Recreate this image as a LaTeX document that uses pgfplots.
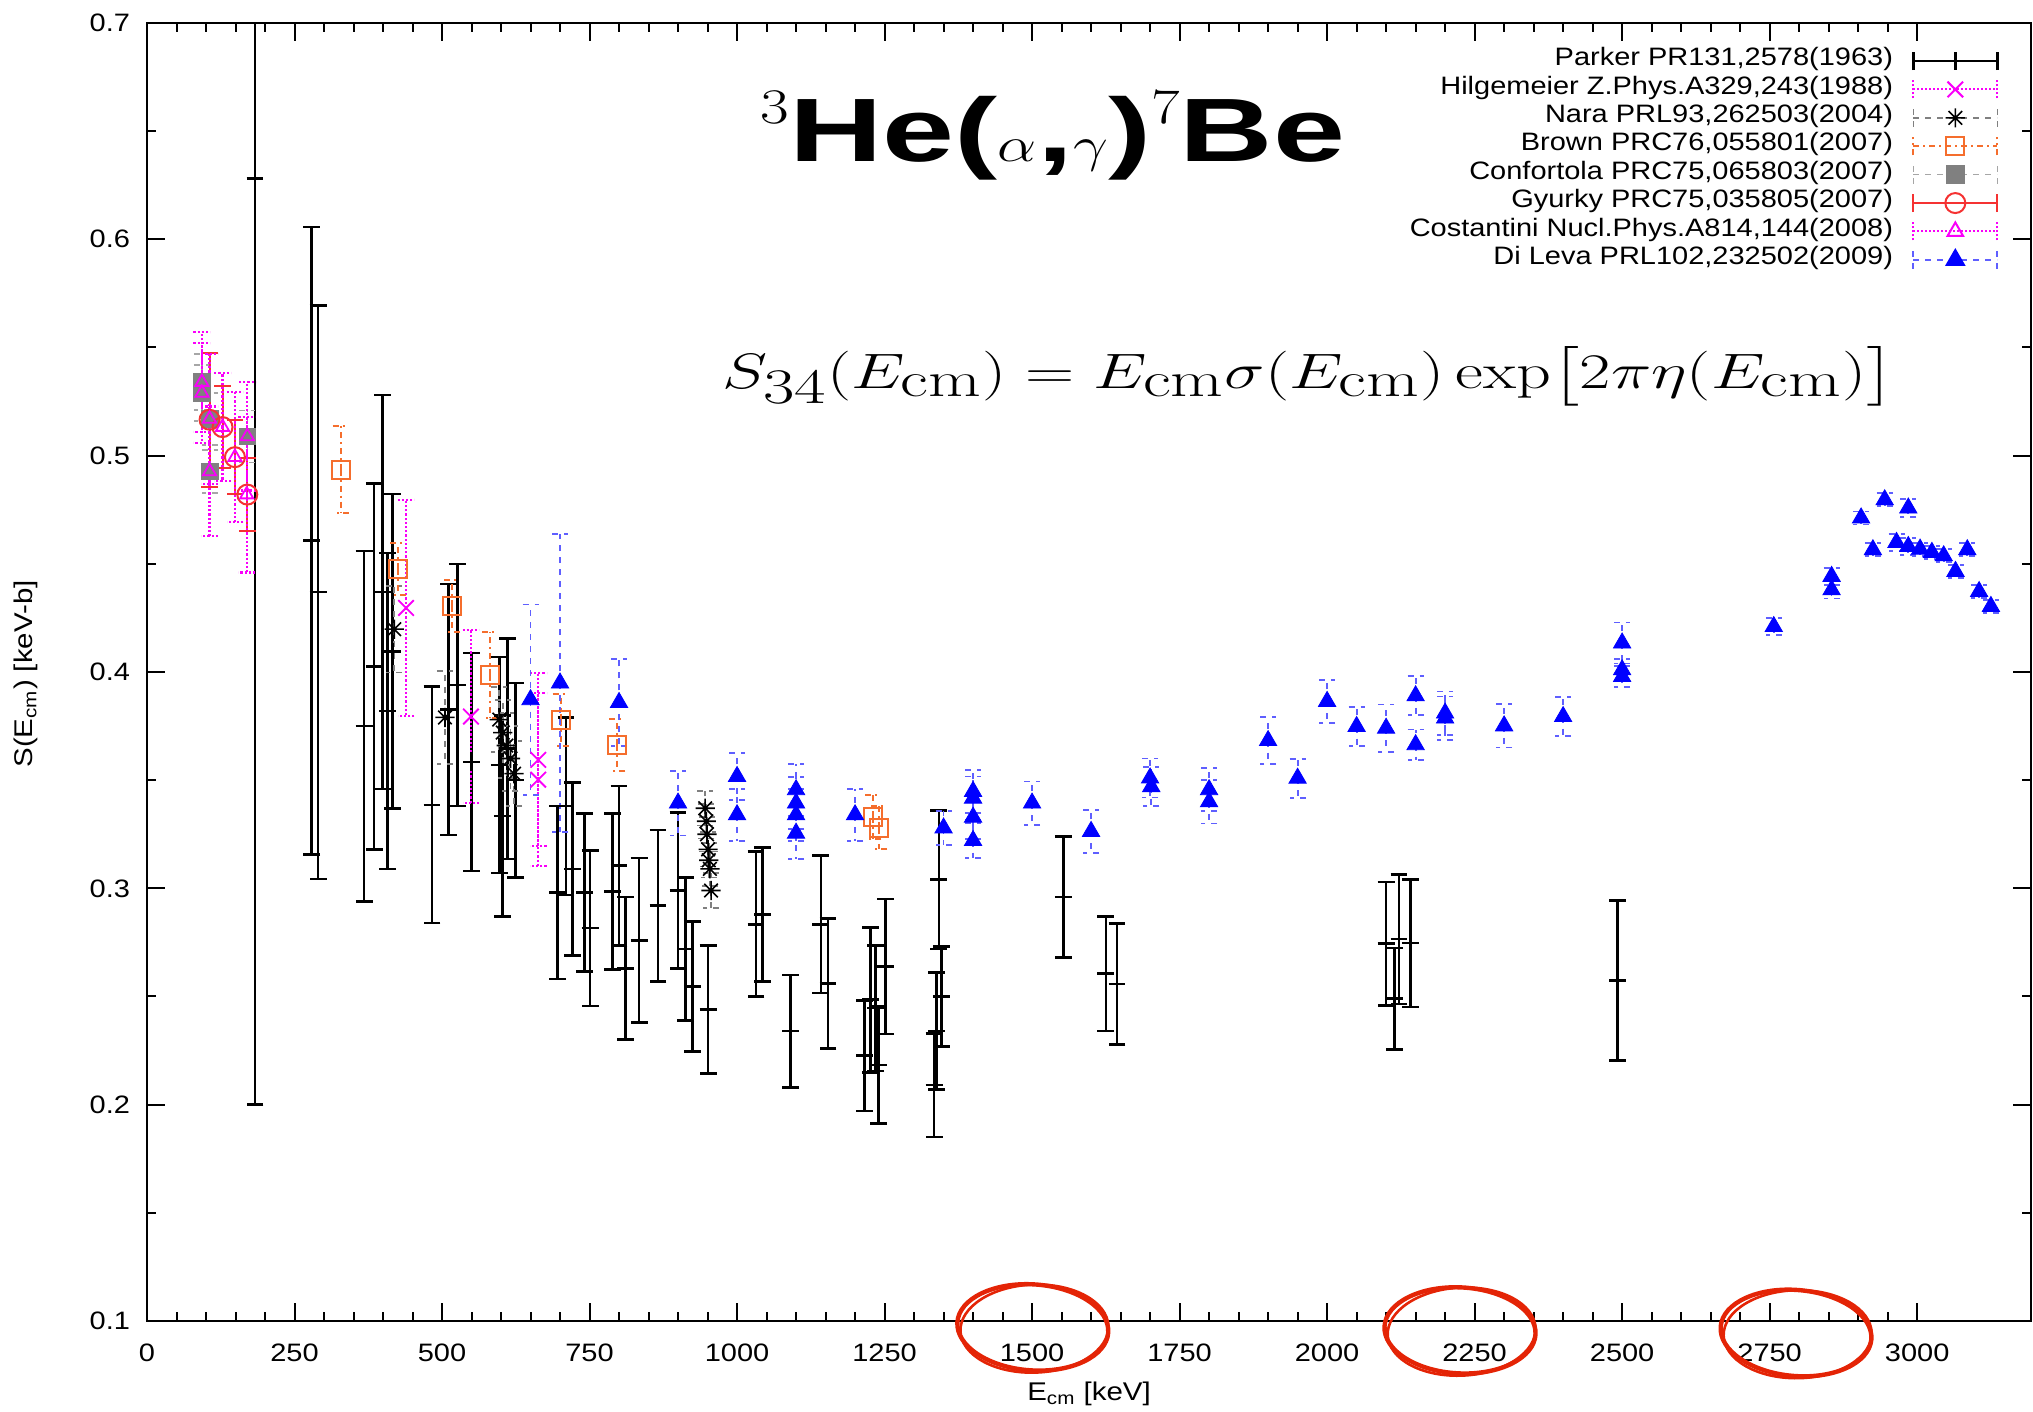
\documentclass[border=0pt]{standalone}
\usepackage[no-math]{fontspec}
\setmainfont{Liberation Sans}[FakeStretch=1.15]
\usepackage{amsmath}
\usepackage{graphicx}
\usepackage{pgfplots}
\usepackage{pgfplotstable}
\pgfplotsset{compat=1.18}

\definecolor{hilg}{RGB}{250,0,250}
\definecolor{brownc}{RGB}{245,110,45}
\definecolor{gyur}{RGB}{245,50,50}
\definecolor{confg}{RGB}{128,128,128}
\definecolor{dileva}{RGB}{0,0,255}
\definecolor{dilevaerr}{RGB}{95,95,255}
\definecolor{inkred}{RGB}{228,36,6}

% eight-armed asterisk, as in gnuplot's point type 3
\pgfdeclareplotmark{star8}{%
  \pgfpathmoveto{\pgfqpoint{-\pgfplotmarksize}{0pt}}\pgfpathlineto{\pgfqpoint{\pgfplotmarksize}{0pt}}%
  \pgfpathmoveto{\pgfqpoint{0pt}{-\pgfplotmarksize}}\pgfpathlineto{\pgfqpoint{0pt}{\pgfplotmarksize}}%
  \pgfpathmoveto{\pgfqpoint{-0.707\pgfplotmarksize}{-0.707\pgfplotmarksize}}\pgfpathlineto{\pgfqpoint{0.707\pgfplotmarksize}{0.707\pgfplotmarksize}}%
  \pgfpathmoveto{\pgfqpoint{-0.707\pgfplotmarksize}{0.707\pgfplotmarksize}}\pgfpathlineto{\pgfqpoint{0.707\pgfplotmarksize}{-0.707\pgfplotmarksize}}%
  \pgfusepathqstroke}

% legend sample: horizontal bar with end caps and the marker in the middle
\pgfplotsset{
  ebleg/.style={legend image code/.code={%
      \draw[##1,mark=none] (0pt,0pt) -- (42pt,0pt);
      \draw[##1,mark=none] (0pt,-4.5pt) -- (0pt,4.5pt);
      \draw[##1,mark=none] (42pt,-4.5pt) -- (42pt,4.5pt);
      \draw[##1] plot coordinates {(21pt,0pt)};
  }},
}

% Parker et al. (1963)
\pgfplotstableread{
x y e
183 0.628 0.428
279 0.4607 0.145
290 0.4369 0.1325
368 0.375 0.081
385 0.4025 0.0846
399 0.437 0.091
408 0.382 0.073
416 0.4095 0.0727
483 0.3386 0.0547
511 0.3826 0.058
526 0.394 0.056
550 0.3584 0.0503
597 0.357 0.050
602 0.3335 0.0465
611 0.3646 0.051
625 0.350 0.045
696 0.298 0.040
710 0.338 0.041
721 0.309 0.040
741 0.298 0.0365
751 0.2816 0.036
789 0.2985 0.036
800 0.3105 0.0368
811 0.263 0.033
834 0.276 0.038
866 0.292 0.035
900 0.299 0.036
913 0.272 0.033
924 0.2546 0.030
951 0.244 0.0295
1032 0.2834 0.0335
1043 0.288 0.031
1091 0.234 0.026
1142 0.2834 0.0317
1154 0.256 0.030
1216 0.2226 0.0255
1226 0.2485 0.0335
1235 0.2446 0.029
1240 0.2184 0.027
1252 0.2638 0.0312
1334 0.209 0.024
1338 0.234 0.027
1342 0.304 0.032
1346 0.250 0.023
1553 0.296 0.028
1625 0.2605 0.0265
1644 0.2557 0.028
2100 0.2744 0.0286
2114 0.249 0.0234
2122 0.2765 0.030
2141 0.2747 0.0295
2492 0.2574 0.037
}\parkerdata

% Hilgemeier et al. (1988)
\pgfplotstableread{
x y e
439 0.4296 0.050
549 0.3794 0.040
663 0.3594 0.040
663 0.3502 0.040
}\hilgdata

% Nara Singh et al. (2004)
\pgfplotstableread{
x y e
419 0.4198 0.020
505 0.379 0.0215
597 0.378 0.015
603 0.372 0.015
609 0.366 0.015
616 0.360 0.015
622 0.353 0.015
946 0.337 0.008
948 0.331 0.008
949 0.325 0.008
951 0.318 0.008
952 0.313 0.008
954 0.309 0.008
956 0.299 0.008
}\naradata

% Brown et al. (2007)
\pgfplotstableread{
x y e
328 0.4935 0.020
426 0.4476 0.012
517 0.4303 0.012
582 0.3987 0.020
701 0.378 0.012
797 0.3664 0.012
1231 0.333 0.010
1241 0.328 0.010
}\browndata

% Confortola et al. (2007)
\pgfplotstableread{
x y e
93 0.534 0.013
93 0.529 0.013
106 0.4927 0.010
106 0.517 0.012
170 0.5089 0.012
}\confdata

% Gyurky et al. (2007)
\pgfplotstableread{
x y e
106 0.5166 0.031
128 0.5132 0.019
149 0.4993 0.017
170 0.482 0.017
}\gyurdata

% Costantini et al. (2008)
\pgfplotstableread{
x y e
93 0.534 0.023
93 0.529 0.023
106 0.4927 0.030
106 0.517 0.030
128 0.5132 0.025
149 0.4993 0.030
169 0.482 0.036
170 0.5089 0.025
}\costdata

% Di Leva et al. (2009)
\pgfplotstableread{
x y e
650 0.3872 0.044
700 0.3949 0.069
800 0.3859 0.020
900 0.3394 0.015
1000 0.3517 0.011
1000 0.334 0.012
1100 0.3456 0.012
1100 0.3394 0.012
1100 0.334 0.012
1100 0.3255 0.012
1200 0.334 0.012
1350 0.3279 0.008
1400 0.3448 0.010
1400 0.3417 0.010
1400 0.3329 0.010
1400 0.3221 0.008
1500 0.3394 0.010
1600 0.3263 0.010
1700 0.351 0.009
1702 0.347 0.009
1800 0.3456 0.010
1800 0.340 0.010
1900 0.3683 0.011
1950 0.3509 0.009
2000 0.3864 0.010
2050 0.3748 0.009
2100 0.374 0.011
2150 0.389 0.009
2150 0.3664 0.007
2200 0.381 0.010
2200 0.3787 0.010
2300 0.3751 0.010
2400 0.3794 0.009
2500 0.4134 0.0095
2500 0.401 0.005
2500 0.3979 0.005
2757 0.421 0.004
2855 0.4442 0.004
2855 0.438 0.004
2905 0.4712 0.003
2925 0.4565 0.003
2945 0.4796 0.003
2965 0.4599 0.004
2985 0.4758 0.004
2985 0.458 0.004
3005 0.4568 0.003
3025 0.4553 0.003
3045 0.4537 0.003
3065 0.4465 0.003
3085 0.4565 0.003
3105 0.4372 0.003
3125 0.4303 0.003
}\dilevadata

\begin{document}
\begin{tikzpicture}
\useasboundingbox (0,0) rectangle (1016.5pt,706pt);
\begin{axis}[
  at={(73.5pt,45.5pt)}, anchor=south west,
  scale only axis, width=942pt, height=649pt,
  xmin=0, xmax=3193, ymin=0.1, ymax=0.7,
  xtick={0,250,500,750,1000,1250,1500,1750,2000,2250,2500,2750,3000},
  ytick={0.1,0.2,0.3,0.4,0.5,0.6,0.7},
  minor x tick num=4, minor y tick num=1,
  tick align=inside, major tick length=9pt, minor tick length=4.5pt,
  axis line style={line width=1.2pt},
  every tick/.style={black, line width=1pt},
  /pgf/number format/assume math mode=true,
  /pgf/number format/1000 sep={},
  tick label style={font=\fontsize{12.6}{13}\selectfont},
  xticklabel style={yshift=-8pt},
  yticklabel shift=5pt,
  yticklabel style={/pgf/number format/.cd, fixed, fixed zerofill, precision=1},
  xlabel={E\textsubscript{cm} [keV]},
  ylabel={S(E\textsubscript{cm}) [keV-b]},
  label style={font=\fontsize{12.8}{13}\selectfont},
  xlabel style={at={(axis description cs:0.5,0)}, anchor=center, yshift=-36.5pt},
  ylabel style={at={(axis description cs:-0.0642,0.4985)}, anchor=center},
  legend plot pos=right,
  legend cell align=right,
  legend style={draw=none, fill=none, at={(rel axis cs:0.9862,0.985)}, anchor=north east,
    font=\fontsize{12.6}{13}\selectfont, column sep=9.5pt, row sep=0pt,
    nodes={inner sep=0pt, text height=9.4pt, text depth=4.8pt}},
]

% Parker
\addplot[forget plot, only marks, black, mark=+, mark size=4.2pt, mark options={line width=1.3pt},
  error bars/.cd, y dir=both, y explicit,
  error bar style={line width=1.3pt, black},
  error mark options={rotate=90, line width=1.3pt, mark size=4.2pt, black}]
  table[x=x, y=y, y error=e] {\parkerdata};

% Hilgemeier
\addplot[forget plot, only marks, hilg, mark=x, mark size=5.5pt, mark options={solid, line width=0.9pt},
  error bars/.cd, y dir=both, y explicit,
  error bar style={line width=1.1pt, hilg, densely dotted},
  error mark options={rotate=90, line width=1.1pt, mark size=4.2pt, hilg, densely dotted}]
  table[x=x, y=y, y error=e] {\hilgdata};

% Nara
\addplot[forget plot, only marks, black, mark=star8, mark size=4.8pt, mark options={solid, line width=0.8pt},
  error bars/.cd, y dir=both, y explicit,
  error bar style={line width=0.8pt, gray, dashed},
  error mark options={rotate=90, line width=0.8pt, mark size=4pt, gray, dashed}]
  table[x=x, y=y, y error=e] {\naradata};

% Brown
\addplot[forget plot, only marks, brownc, mark=square, mark size=4.5pt, mark options={solid, line width=1pt},
  error bars/.cd, y dir=both, y explicit,
  error bar style={line width=1pt, brownc, dash dot},
  error mark options={rotate=90, line width=1pt, mark size=4pt, brownc, dash dot}]
  table[x=x, y=y, y error=e] {\browndata};

% Confortola
\addplot[forget plot, only marks, confg, mark=square*, mark size=4.2pt, mark options={solid, fill=confg},
  error bars/.cd, y dir=both, y explicit,
  error bar style={line width=0.8pt, gray!70, dashed},
  error mark options={rotate=90, line width=0.8pt, mark size=4pt, gray!70, dashed}]
  table[x=x, y=y, y error=e] {\confdata};

% Gyurky
\addplot[forget plot, only marks, gyur, mark=o, mark size=5pt, mark options={solid, line width=1pt},
  error bars/.cd, y dir=both, y explicit,
  error bar style={line width=1pt, gyur},
  error mark options={rotate=90, line width=1pt, mark size=4.2pt, gyur}]
  table[x=x, y=y, y error=e] {\gyurdata};

% Costantini
\addplot[forget plot, only marks, hilg, mark=triangle, mark size=3.8pt, mark options={solid, line width=0.9pt},
  error bars/.cd, y dir=both, y explicit,
  error bar style={line width=1.1pt, hilg, densely dotted},
  error mark options={rotate=90, line width=1.1pt, mark size=4.2pt, hilg, densely dotted}]
  table[x=x, y=y, y error=e] {\costdata};

% Di Leva
\addplot[forget plot, only marks, dileva, mark=triangle*, mark size=5pt, mark options={solid, fill=dileva},
  error bars/.cd, y dir=both, y explicit,
  error bar style={line width=0.9pt, dilevaerr, dashed},
  error mark options={rotate=90, line width=0.9pt, mark size=4pt, dilevaerr, dashed}]
  table[x=x, y=y, y error=e] {\dilevadata};

\addlegendimage{ebleg, black, line width=1.3pt, mark=+, mark size=4.5pt}
\addlegendentry{Parker PR131,2578(1963)}
\addlegendimage{ebleg, hilg, line width=1pt, densely dotted, mark=x, mark size=5.5pt, mark options={solid}}
\addlegendentry{Hilgemeier Z.Phys.A329,243(1988)}
\addlegendimage{ebleg, gray, line width=0.8pt, dashed, mark=star8, mark size=4.8pt, mark options={solid, black}}
\addlegendentry{Nara PRL93,262503(2004)}
\addlegendimage{ebleg, brownc, line width=1pt, dash dot, mark=square, mark size=4.5pt, mark options={solid}}
\addlegendentry{Brown PRC76,055801(2007)}
\addlegendimage{ebleg, gray!70, line width=0.8pt, dashed, mark=square*, mark size=4.2pt, mark options={solid, confg, fill=confg}}
\addlegendentry{Confortola PRC75,065803(2007)}
\addlegendimage{ebleg, gyur, line width=1pt, mark=o, mark size=5pt, mark options={solid}}
\addlegendentry{Gyurky PRC75,035805(2007)}
\addlegendimage{ebleg, hilg, line width=1pt, densely dotted, mark=triangle, mark size=4.5pt, mark options={solid}}
\addlegendentry{Costantini Nucl.Phys.A814,144(2008)}
\addlegendimage{ebleg, dilevaerr, line width=0.9pt, dashed, mark=triangle*, mark size=5pt, mark options={solid, dileva, fill=dileva}}
\addlegendentry{Di Leva PRL102,232502(2009)}
\end{axis}

% reaction label
\node[anchor=base, inner sep=0pt] at (526.5pt,625pt)
  {\scalebox{1.25}[1]{\fontsize{45}{45}\selectfont\bfseries
   \raisebox{19pt}{\fontsize{29}{29}\selectfont$3$}He($\alpha$,$\gamma$)\raisebox{19pt}{\fontsize{29}{29}\selectfont$7$}Be}};
% astrophysical S-factor definition
\node[anchor=base west, inner sep=0pt] at (361pt,511.5pt)
  {\scalebox{1.37}[1]{\fontsize{36}{36}\selectfont
   $S_{34}(E_{\rm cm}) = E_{\rm cm}\sigma(E_{\rm cm})\exp\bigl[2\pi\eta(E_{\rm cm})\bigr]$}};

% hand-drawn highlight rings around the x tick labels
\foreach \cx/\cy/\rot in {516.4/42.3/-4, 730/40.8/-3, 898/39.5/-5}{
  \draw[inkred, line width=2.2pt, rotate around={\rot:(\cx pt,\cy pt)}]
    (\cx pt,\cy pt) ellipse [x radius=37.8pt, y radius=21.5pt];
  \draw[inkred, line width=1.3pt, rotate around={\rot+6:(\cx pt+0.8pt,\cy pt-0.6pt)}]
    (\cx pt+0.8pt,\cy pt-0.6pt) ellipse [x radius=37pt, y radius=22pt];
}
\end{tikzpicture}
\end{document}
